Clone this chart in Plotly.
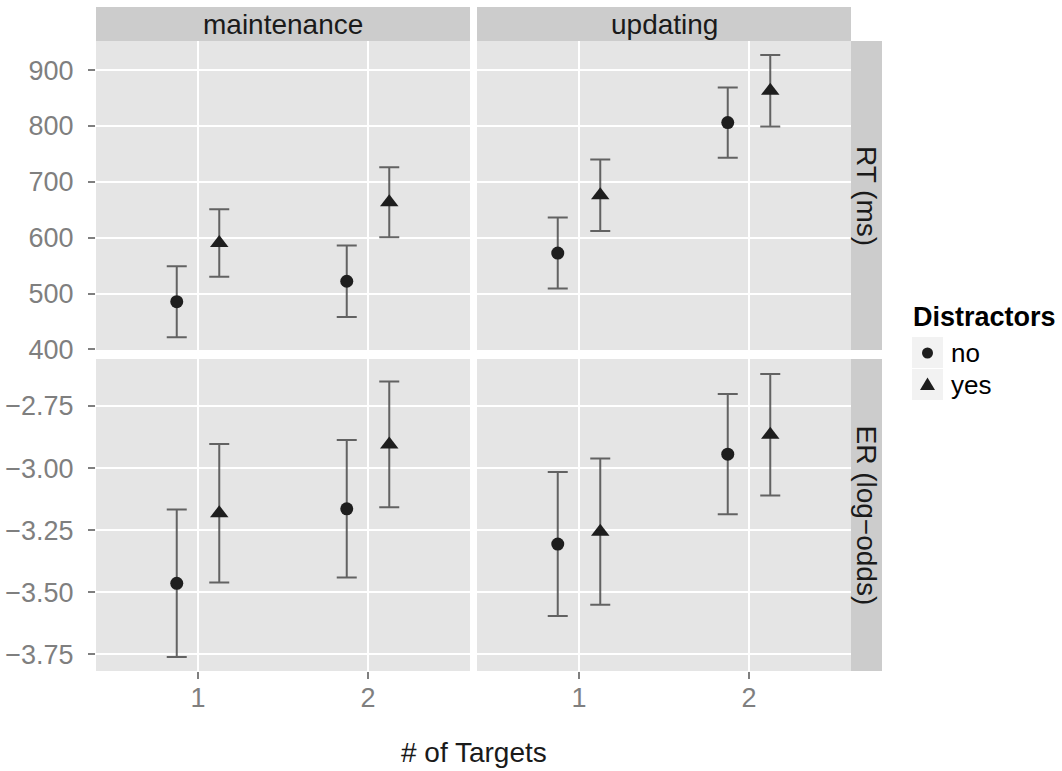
import plotly.graph_objects as go

# ---- data -------------------------------------------------------------
tasks = ["maintenance", "updating"]
measures = ["RT (ms)", "ER (log\u2212odds)"]
targets = [1, 2]
distractors = ["no", "yes"]

# RT (ms): mean and half-width of interval, per task, distractor level, # of targets
rt_maint_no = [485.5, 522.0]
rt_maint_no_ci = [63.5, 64.0]
rt_maint_yes = [590.5, 663.5]
rt_maint_yes_ci = [60.5, 62.5]
rt_upd_no = [572.5, 806.0]
rt_upd_no_ci = [63.5, 63.0]
rt_upd_yes = [676.0, 863.0]
rt_upd_yes_ci = [64.0, 64.0]

# ER (log-odds)
er_maint_no = [-3.464, -3.164]
er_maint_no_ci = [0.297, 0.277]
er_maint_yes = [-3.182, -2.905]
er_maint_yes_ci = [0.279, 0.253]
er_upd_no = [-3.306, -2.944]
er_upd_no_ci = [0.290, 0.242]
er_upd_yes = [-3.256, -2.866]
er_upd_yes_ci = [0.294, 0.245]

rt_ticks = [400, 500, 600, 700, 800, 900]
er_ticks = [-3.75, -3.5, -3.25, -3.0, -2.75]

# ---- styling ------------------------------------------------------------
W, H = 1062, 771
FONT = "Liberation Sans, Arial, Helvetica, sans-serif"
PANEL_BG = "#E5E5E5"
STRIP_BG = "#CCCCCC"
TICK_GREY = "#7F7F7F"
POINT_COL = "#1E1E1E"
BAR_COL = "rgba(75,75,75,0.85)"
DODGE = {"no": -0.125, "yes": 0.125}
SYMBOL = {"no": "circle", "yes": "triangle-up"}
MSIZE = {"no": 13, "yes": 16}


def px_x(p):
    return p / W


def px_y(p):
    return 1 - p / H


col_dom = [(px_x(96), px_x(470)), (px_x(477), px_x(851))]
row_dom = [(px_y(350), px_y(41)), (px_y(671), px_y(359))]

series = {
    (0, 0, "no"): (rt_maint_no, rt_maint_no_ci),
    (0, 0, "yes"): (rt_maint_yes, rt_maint_yes_ci),
    (0, 1, "no"): (rt_upd_no, rt_upd_no_ci),
    (0, 1, "yes"): (rt_upd_yes, rt_upd_yes_ci),
    (1, 0, "no"): (er_maint_no, er_maint_no_ci),
    (1, 0, "yes"): (er_maint_yes, er_maint_yes_ci),
    (1, 1, "no"): (er_upd_no, er_upd_no_ci),
    (1, 1, "yes"): (er_upd_yes, er_upd_yes_ci),
}

fig = go.Figure()


def axis_id(r, c):
    n = r * 2 + c + 1
    return ("" if n == 1 else str(n))


for (r, c, d), (mean, ci) in series.items():
    k = axis_id(r, c)
    fig.add_trace(go.Scatter(
        x=[t + DODGE[d] for t in targets],
        y=mean,
        mode="markers",
        marker=dict(symbol=SYMBOL[d], size=MSIZE[d], color=POINT_COL,
                    line=dict(width=0)),
        error_y=dict(type="data", array=ci, visible=True, color=BAR_COL,
                     thickness=2, width=10),
        xaxis="x" + k, yaxis="y" + k,
        showlegend=False, hoverinfo="skip",
    ))

layout = dict(
    width=W, height=H,
    margin=dict(l=0, r=0, t=0, b=0),
    paper_bgcolor="white", plot_bgcolor=PANEL_BG,
    font=dict(family=FONT, size=27, color="#1A1A1A"),
    showlegend=False,
)

for r in range(2):
    for c in range(2):
        k = axis_id(r, c)
        xa = dict(
            domain=col_dom[c], anchor="y" + k, range=[0.4, 2.6],
            tickvals=targets, ticktext=[str(t) for t in targets],
            showgrid=True, gridcolor="white", gridwidth=2,
            zeroline=False, showline=False, automargin=False,
            fixedrange=True,
        )
        if r == 1:
            xa.update(ticks="outside", ticklen=7, tickcolor=TICK_GREY,
                      tickwidth=1.5, showticklabels=True,
                      ticklabelstandoff=-4,
                      tickfont=dict(size=27, color=TICK_GREY))
        else:
            xa.update(ticks="", showticklabels=False)
        ya = dict(
            domain=row_dom[r], anchor="x" + k,
            showgrid=True, gridcolor="white", gridwidth=2,
            zeroline=False, showline=False, automargin=False,
            fixedrange=True,
        )
        if r == 0:
            ya.update(range=[399, 952], tickvals=rt_ticks)
        else:
            ya.update(range=[-3.817, -2.561], tickvals=er_ticks, tickformat=".2f")
        if c == 0:
            ya.update(ticks="outside", ticklen=7, tickcolor=TICK_GREY,
                      tickwidth=1.5, showticklabels=True,
                      ticklabelstandoff=9,
                      tickfont=dict(size=27, color=TICK_GREY))
        else:
            ya.update(ticks="", showticklabels=False)
        layout["xaxis" + k] = xa
        layout["yaxis" + k] = ya

shapes = []
annotations = []

# facet strips: columns on top
for c, name in enumerate(tasks):
    x0, x1 = col_dom[c]
    shapes.append(dict(type="rect", xref="paper", yref="paper", x0=x0, x1=x1,
                       y0=px_y(41), y1=px_y(7), fillcolor=STRIP_BG,
                       line=dict(width=0), layer="below"))
    annotations.append(dict(text=name, xref="paper", yref="paper",
                            x=(x0 + x1) / 2, y=px_y(24), showarrow=False,
                            xanchor="center", yanchor="middle",
                            font=dict(size=28, color="#1A1A1A")))

# facet strips: rows on the right
for r, name in enumerate(measures):
    y0, y1 = row_dom[r]
    shapes.append(dict(type="rect", xref="paper", yref="paper", x0=px_x(851),
                       x1=px_x(882), y0=y0, y1=y1, fillcolor=STRIP_BG,
                       line=dict(width=0), layer="below"))
    annotations.append(dict(text=name, xref="paper", yref="paper",
                            x=px_x(866.5), y=(y0 + y1) / 2, showarrow=False,
                            textangle=90, xanchor="center", yanchor="middle",
                            font=dict(size=28, color="#1A1A1A")))

# x axis title
annotations.append(dict(text="# of Targets", xref="paper", yref="paper",
                        x=px_x(473.5), y=px_y(752), showarrow=False,
                        xanchor="center", yanchor="middle",
                        font=dict(size=28, color="#1A1A1A")))

# legend, drawn by hand: title, grey key boxes, symbols and labels
annotations.append(dict(text="<b>Distractors</b>", xref="paper", yref="paper",
                        x=px_x(911), y=px_y(317), showarrow=False,
                        xanchor="left", yanchor="middle",
                        font=dict(size=27, color="#000000")))
key_top = [337, 369]
for i, d in enumerate(distractors):
    top = key_top[i]
    shapes.append(dict(type="rect", xref="paper", yref="paper",
                       x0=px_x(912), x1=px_x(943), y0=px_y(top + 31),
                       y1=px_y(top), fillcolor="#F2F2F2", line=dict(width=0)))
    cx, cy = 927.5, top + 16
    if SYMBOL[d] == "circle":
        rr = 5.5
        shapes.append(dict(type="circle", xref="paper", yref="paper",
                           x0=px_x(cx - rr), x1=px_x(cx + rr),
                           y0=px_y(cy + rr), y1=px_y(cy - rr),
                           fillcolor=POINT_COL, line=dict(width=0)))
    else:
        hw, up, dn = 7.5, 7.5, 5
        path = "M {} {} L {} {} L {} {} Z".format(
            px_x(cx - hw), px_y(cy + dn), px_x(cx + hw), px_y(cy + dn),
            px_x(cx), px_y(cy - up))
        shapes.append(dict(type="path", xref="paper", yref="paper", path=path,
                           fillcolor=POINT_COL, line=dict(width=0)))
    annotations.append(dict(text=d, xref="paper", yref="paper",
                            x=px_x(949), y=px_y(cy), showarrow=False,
                            xanchor="left", yanchor="middle",
                            font=dict(size=26, color="#000000")))

layout["shapes"] = shapes
layout["annotations"] = annotations
fig.update_layout(**layout)

fig.write_html("out.html")
